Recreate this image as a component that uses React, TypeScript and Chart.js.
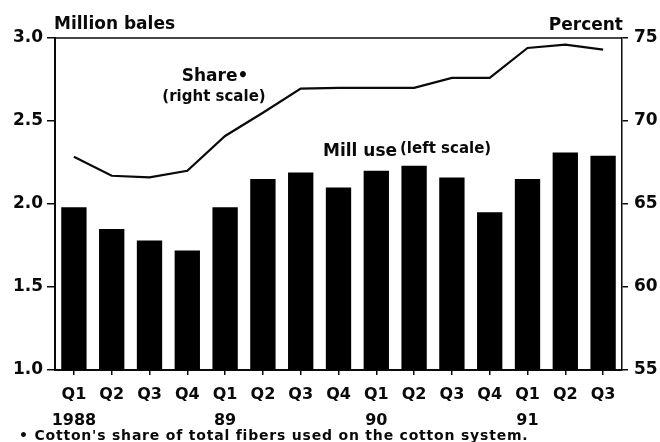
import React, { useEffect, useRef } from "react";
import { Chart, registerables } from "chart.js";

Chart.register(...registerables);

const quarters = ["Q1", "Q2", "Q3", "Q4", "Q1", "Q2", "Q3", "Q4", "Q1", "Q2", "Q3", "Q4", "Q1", "Q2", "Q3"];
const years = ["1988", "", "", "", "89", "", "", "", "90", "", "", "", "91", "", ""];
const millUse = [1.98, 1.85, 1.78, 1.72, 1.98, 2.15, 2.19, 2.1, 2.2, 2.23, 2.16, 1.95, 2.15, 2.31, 2.29];
const share = [67.85, 66.7, 66.6, 67.0, 69.1, 70.5, 71.95, 72.0, 72.0, 72.0, 72.6, 72.6, 74.4, 74.6, 74.3];
const leftRange = [1.0, 3.0, 0.5];
const rightRange = [55, 75, 5];

const FONT = "'DejaVu Sans', sans-serif";
const INK = "#0a0a0a";

const textPlugin = {
  id: "texts",
  afterDraw(chart: any) {
    const { ctx, chartArea } = chart;
    const { left, right, top } = chartArea;
    ctx.save();
    // top frame line
    ctx.strokeStyle = INK;
    ctx.lineWidth = 1.5;
    ctx.beginPath();
    ctx.moveTo(left, top);
    ctx.lineTo(right, top);
    ctx.stroke();

    ctx.fillStyle = INK;
    ctx.textBaseline = "alphabetic";
    ctx.font = `bold 17px ${FONT}`;
    ctx.textAlign = "left";
    ctx.fillText("Million bales", left - 1, top - 9);
    ctx.textAlign = "right";
    ctx.fillText("Percent", right + 1, top - 8);

    // annotations
    ctx.textAlign = "center";
    ctx.font = `bold 17px ${FONT}`;
    ctx.fillText("Share\u2022", left + 160, top + 43);
    ctx.font = `bold 15px ${FONT}`;
    ctx.fillText("(right scale)", left + 159, top + 63);

    ctx.textAlign = "left";
    ctx.font = `bold 17px ${FONT}`;
    ctx.fillText("Mill use", left + 268, top + 118);
    ctx.font = `bold 15px ${FONT}`;
    ctx.fillText("(left scale)", left + 345, top + 115);

    // footnote
    ctx.font = `bold 14px ${FONT}`;
    try {
      (ctx as any).letterSpacing = "0.8px";
    } catch (e) {}
    ctx.fillText("\u2022 Cotton's share of total fibers used on the cotton system.", 19, chart.height - 2);
    ctx.restore();
  },
};

export default function App() {
  const ref = useRef<HTMLCanvasElement | null>(null);
  useEffect(() => {
    document.body.style.margin = "0";
    const canvas = ref.current!;
    const labels = quarters.map((q, i) => [q, years[i]]);
    const chart = new Chart(canvas, {
      type: "bar",
      data: {
        labels,
        datasets: [
          {
            type: "line",
            label: "Share",
            data: share,
            yAxisID: "y1",
            borderColor: INK,
            borderWidth: 2.2,
            pointRadius: 0,
            tension: 0,
            fill: false,
            order: 0,
          } as any,
          {
            type: "bar",
            label: "Mill use",
            data: millUse,
            yAxisID: "y",
            backgroundColor: "#000",
            borderWidth: 0,
            barPercentage: 0.67,
            categoryPercentage: 1,
            order: 1,
          },
        ],
      },
      options: {
        responsive: false,
        animation: false,
        layout: { padding: { top: 38, left: 0, right: 0, bottom: 0 } },
        plugins: { legend: { display: false }, tooltip: { enabled: false } },
        scales: {
          x: {
            offset: true,
            grid: { offset: false, drawOnChartArea: false, drawTicks: true, tickLength: 5, color: INK, lineWidth: 1.5 },
            border: { display: true, color: INK, width: 2 },
            ticks: {
              autoSkip: false,
              maxRotation: 0,
              padding: 7,
              color: INK,
              font: { family: FONT, size: 16, weight: "bold", lineHeight: 1.6 },
            },
            afterFit(scale: any) {
              scale.height = 72;
            },
          },
          y: {
            position: "left",
            min: leftRange[0],
            max: leftRange[1],
            grid: { drawOnChartArea: false, tickLength: 8, color: INK, lineWidth: 1.5 },
            border: { display: true, color: INK, width: 2 },
            ticks: {
              stepSize: leftRange[2],
              padding: 4,
              color: INK,
              font: { family: FONT, size: 17, weight: "bold" },
              callback: (v: any) => Number(v).toFixed(1),
            },
            afterFit(scale: any) {
              scale.width = 55;
            },
          },
          y1: {
            position: "right",
            min: rightRange[0],
            max: rightRange[1],
            grid: { drawOnChartArea: false, tickLength: 6, color: INK, lineWidth: 1.5 },
            border: { display: true, color: INK, width: 1.5 },
            ticks: {
              stepSize: rightRange[2],
              padding: 6,
              color: INK,
              font: { family: FONT, size: 17, weight: "bold" },
            },
            afterFit(scale: any) {
              scale.width = 38;
            },
          },
        },
      },
      plugins: [textPlugin],
    });
    return () => chart.destroy();
  }, []);
  return (
    <div style={{ width: 660, height: 442, background: "#fff" }}>
      <canvas ref={ref} width={660} height={442} />
    </div>
  );
}
